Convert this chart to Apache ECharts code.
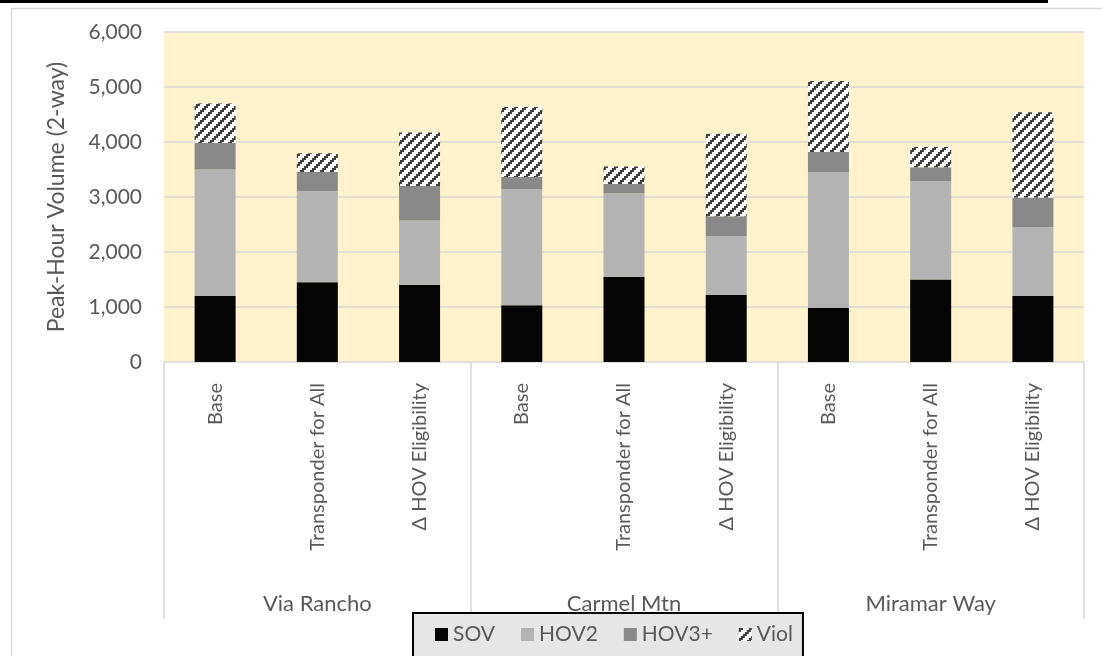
<!DOCTYPE html>
<html>
<head>
<meta charset="utf-8">
<script src="https://cdn.jsdelivr.net/npm/echarts@6/dist/echarts.min.js"></script>
<style>
  html, body { margin: 0; padding: 0; background: #ffffff; }
  #chart { width: 1102px; height: 656px; }
</style>
</head>
<body>
<div id="chart"></div>
<script>
// Scenario labels (inner axis level) and corridor groups (outer axis level)
const scenarios = ['Base', 'Transponder for All', '\u0394 HOV Eligibility'];
const corridors = ['Via Rancho', 'Carmel Mtn', 'Miramar Way'];

// Peak-hour 2-way volumes per vehicle class, ordered corridor by corridor, scenario by scenario
const sov  = [1200, 1450, 1405, 1030, 1550, 1220,  980, 1500, 1200];
const hov2 = [2300, 1660, 1170, 2115, 1520, 1070, 2475, 1790, 1255];
const hov3 = [ 480,  345,  625,  220,  165,  360,  365,  250,  535];
const viol = [ 720,  340,  975, 1270,  320, 1500, 1290,  370, 1550];

const yTicks = [0, 1000, 2000, 3000, 4000, 5000, 6000];

const TEXT = '#595959';
const FONT = 'Lato';
const GRIDLINE = '#d9d9d9';

// Wide upward-diagonal hatch used for violators
function hatchTile() {
  const n = 10;
  const c = document.createElement('canvas');
  c.width = n; c.height = n;
  const g = c.getContext('2d');
  g.fillStyle = '#ffffff';
  g.fillRect(0, 0, n, n);
  g.fillStyle = '#404040';
  for (let y = 0; y < n; y++) {
    for (let x = 0; x < n; x++) {
      if ((Math.floor(x / 2) + Math.floor(y / 2)) % 5 < 2) g.fillRect(x, y, 1, 1);
    }
  }
  return c;
}
const hatch = { image: hatchTile(), repeat: 'repeat' };

const categoryKeys = [];
corridors.forEach(c => scenarios.forEach(s => categoryKeys.push(c + ' / ' + s)));

function barSeries(name, data, color) {
  return {
    name: name,
    type: 'bar',
    stack: 'volume',
    barWidth: 41,
    data: data,
    itemStyle: { color: color },
    emphasis: { disabled: true }
  };
}

const chart = echarts.init(document.getElementById('chart'), null, { renderer: 'canvas' });

chart.setOption({
  animation: false,
  backgroundColor: '#ffffff',
  textStyle: { fontFamily: FONT },
  grid: {
    left: 164, right: 18, top: 32, bottom: 294,
    show: true, backgroundColor: '#fff2cc', borderWidth: 0
  },
  legend: {
    left: 413, top: 613,
    icon: 'rect',
    itemWidth: 13, itemHeight: 13, itemGap: 26,
    padding: [11, 10, 40, 22],
    backgroundColor: '#e7e6e6',
    borderColor: '#000000', borderWidth: 2, borderRadius: 0,
    textStyle: { color: TEXT, fontSize: 21, fontFamily: FONT },
    data: ['SOV', 'HOV2', 'HOV3+', 'Viol']
  },
  xAxis: [
    {
      type: 'category',
      data: categoryKeys,
      position: 'bottom',
      axisLine: { show: false },
      axisTick: { show: false },
      axisLabel: {
        interval: 0, rotate: 90, margin: 21,
        color: TEXT, fontSize: 20, fontFamily: FONT,
        formatter: (v, i) => scenarios[i % scenarios.length]
      }
    },
    {
      type: 'category',
      data: corridors,
      position: 'bottom',
      axisLine: { show: false },
      axisTick: {
        show: true, interval: 0, length: 257, inside: false,
        lineStyle: { color: GRIDLINE, width: 1.5 }
      },
      axisLabel: {
        interval: 0, margin: 231,
        color: TEXT, fontSize: 22, fontFamily: FONT
      }
    }
  ],
  yAxis: {
    type: 'value',
    min: yTicks[0], max: yTicks[yTicks.length - 1], interval: 1000,
    name: 'Peak-Hour Volume (2-way)',
    nameLocation: 'middle', nameRotate: 90, nameGap: 96,
    nameTextStyle: { color: TEXT, fontSize: 23, fontFamily: FONT },
    axisLine: { show: false },
    axisTick: { show: false },
    axisLabel: {
      color: TEXT, fontSize: 21, fontFamily: FONT, margin: 22,
      formatter: v => v.toLocaleString('en-US')
    },
    splitLine: { lineStyle: { color: GRIDLINE, width: 1.5 } }
  },
  series: [
    barSeries('SOV', sov, '#050505'),
    barSeries('HOV2', hov2, '#b3b3b3'),
    barSeries('HOV3+', hov3, '#898989'),
    barSeries('Viol', viol, hatch)
  ],
  graphic: [
    // rule above the chart frame
    { type: 'rect', left: 0, top: 0, shape: { width: 1048, height: 3 }, style: { fill: '#000000' }, silent: true },
    // outer chart frame
    { type: 'line', shape: { x1: 11.5, y1: 8, x2: 11.5, y2: 656 }, style: { stroke: GRIDLINE, lineWidth: 1.5 }, silent: true },
    { type: 'line', shape: { x1: 11, y1: 8.5, x2: 1102, y2: 8.5 }, style: { stroke: GRIDLINE, lineWidth: 1.5 }, silent: true }
  ]
});
</script>
</body>
</html>
